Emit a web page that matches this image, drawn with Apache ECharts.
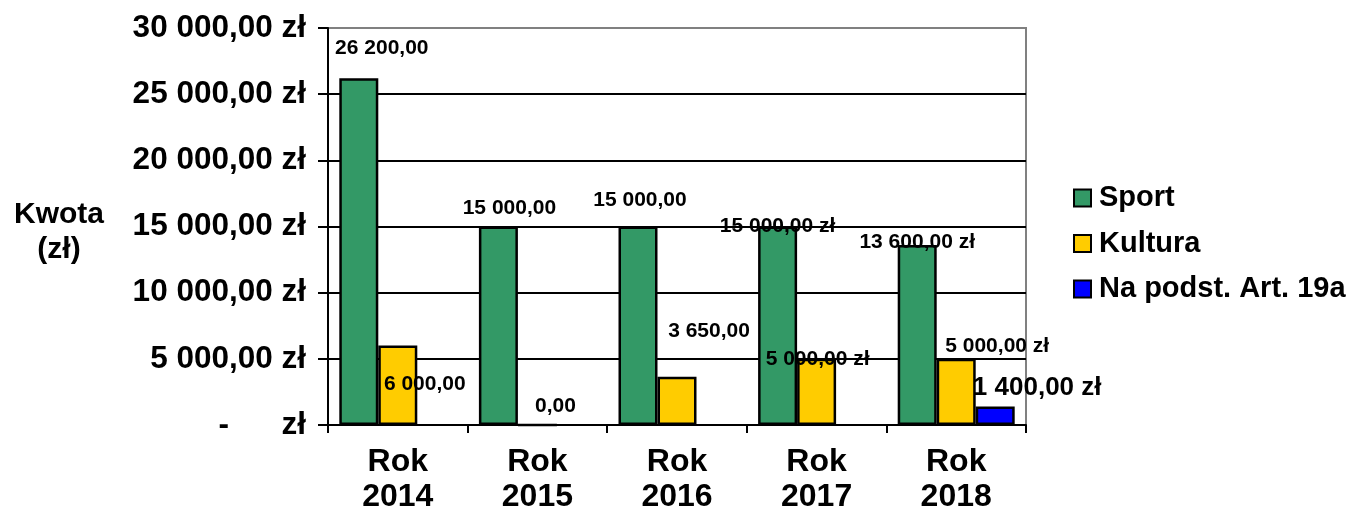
<!DOCTYPE html>
<html>
<head>
<meta charset="utf-8">
<script src="https://cdn.jsdelivr.net/npm/echarts@6/dist/echarts.min.js"></script>
<style>
html,body{margin:0;padding:0;background:#fff;}
#chart{width:1354px;height:513px;}
</style>
</head>
<body>
<div id="chart"></div>
<script>
// ---- data ----
var categories = ['Rok\n2014', 'Rok\n2015', 'Rok\n2016', 'Rok\n2017', 'Rok\n2018'];
var seriesNames = ['Sport', 'Kultura', 'Na podst. Art. 19a'];
var sportValues = [26200, 15000, 15000, 15000, 13600];
var kulturaValues = [6000, 0, 3650, 5000, 5000];
var art19aValues = [null, null, null, null, 1400];
var yTicks = [0, 5000, 10000, 15000, 20000, 25000, 30000];
// which value labels carry the currency suffix
var sportLabelCurrency = [false, false, false, true, true];
var kulturaLabelCurrency = [false, false, false, true, true];
var art19aLabelCurrency = [false, false, false, false, true];

// ---- label placement (style) ----
var sportLabelOffsets = [[23, -20], [11, -8], [2, -16], [0, 10], [0, 8]];
var kulturaLabelOffsets = [[27, 49], [18, -7], [32, -35], [1, 11], [41, -2]];
var art19aLabelOffsets = [null, null, null, null, [42, -6]];

var FONT = "'Liberation Sans', Arial, sans-serif";

function fmtNum(v) {
  var parts = v.toFixed(2).split('.');
  var intPart = parts[0].replace(/\B(?=(\d{3})+(?!\d))/g, ' ');
  return intPart + ',' + parts[1];
}

function buildData(values, offsets, currency, fontSize) {
  return values.map(function (v, i) {
    if (v === null) return { value: null, label: { show: false } };
    var txt = fmtNum(v) + (currency[i] ? ' zł' : '');
    return {
      value: v,
      label: {
        show: true,
        position: 'top',
        distance: 0,
        offset: offsets[i],
        formatter: txt,
        fontSize: fontSize,
        fontWeight: 'bold',
        fontFamily: FONT,
        color: '#000'
      }
    };
  });
}

var colors = ['#339966', '#FFCC00', '#0000FF'];
var barStyle = function (c) {
  return { color: c, borderColor: '#000', borderWidth: 2.5 };
};

var chart = echarts.init(document.getElementById('chart'));
chart.setOption({
  animation: false,
  backgroundColor: '#fff',
  title: {
    text: 'Kwota\n(zł)',
    left: 54,
    top: 192,
    textAlign: 'center',
    textStyle: { fontFamily: FONT, fontWeight: 'bold', fontSize: 30, lineHeight: 35, color: '#000' }
  },
  legend: {
    orient: 'vertical',
    left: 1068,
    top: 177,
    itemWidth: 17,
    itemHeight: 17,
    itemGap: 13.5,
    icon: 'rect',
    textStyle: { fontFamily: FONT, fontWeight: 'bold', fontSize: 29, lineHeight: 32, color: '#000', padding: [0, 0, 0, 3] },
    data: seriesNames
  },
  grid: {
    left: 328, right: 328, top: 28, bottom: 88,
    outerBoundsMode: 'none',
    containLabel: false,
    show: true, borderColor: '#808080', borderWidth: 2, backgroundColor: 'transparent'
  },
  xAxis: {
    type: 'category',
    data: categories,
    axisLine: { lineStyle: { color: '#000', width: 2 } },
    axisTick: { show: true, alignWithLabel: false, length: 8, lineStyle: { color: '#000', width: 2 } },
    axisLabel: {
      fontFamily: FONT, fontWeight: 'bold', fontSize: 32, lineHeight: 35, color: '#000', margin: 20
    }
  },
  yAxis: {
    type: 'value',
    min: yTicks[0],
    max: yTicks[yTicks.length - 1],
    interval: yTicks[1] - yTicks[0],
    axisLine: { show: true, lineStyle: { color: '#000', width: 2 } },
    axisTick: { show: true, length: 10, lineStyle: { color: '#000', width: 2 } },
    splitLine: { show: true, lineStyle: { color: ['#000', '#000', '#000', '#000', '#000', '#000', '#808080'], width: 2 } },
    axisLabel: {
      fontFamily: FONT, fontWeight: 'bold', fontSize: 31.5, color: '#000', margin: 22,
      formatter: function (v) { return v === 0 ? '-      zł' : fmtNum(v) + ' zł'; }
    }
  },
  series: [
    {
      name: seriesNames[0], type: 'bar', barWidth: 39, barGap: '0%',
      itemStyle: barStyle(colors[0]),
      data: buildData(sportValues, sportLabelOffsets, sportLabelCurrency, 21)
    },
    {
      name: seriesNames[1], type: 'bar', barWidth: 39, barGap: '0%',
      itemStyle: barStyle(colors[1]),
      data: buildData(kulturaValues, kulturaLabelOffsets, kulturaLabelCurrency, 21)
    },
    {
      name: seriesNames[2], type: 'bar', barWidth: 39, barGap: '0%',
      itemStyle: barStyle(colors[2]),
      data: buildData(art19aValues, art19aLabelOffsets, art19aLabelCurrency, 26)
    }
  ]
});
</script>
</body>
</html>
